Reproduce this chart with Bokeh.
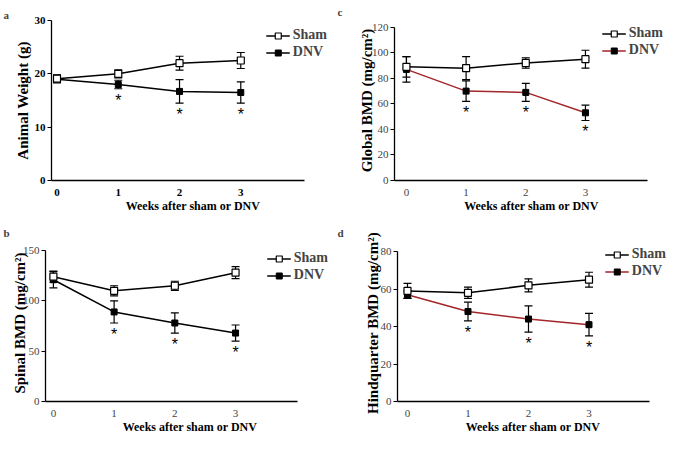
from bokeh.plotting import figure
from bokeh.models import (ColumnDataSource, Whisker, TeeHead, FixedTicker, Range1d,
                          Legend, LegendItem)
from bokeh.layouts import column, row
from bokeh.embed import file_html
from bokeh.resources import INLINE

weeks = [0, 1, 2, 3]
week_labels = ["0", "1", "2", "3"]
significant = [False, True, True, True]

# a: animal weight (g)
weight_sham = [19.1, 20.0, 22.0, 22.5]
weight_sham_err = [0.7, 0.75, 1.3, 1.5]
weight_dnv = [19.0, 18.0, 16.7, 16.5]
weight_dnv_err = [0.7, 0.8, 2.2, 2.0]

# b: spinal BMD
spinal_sham = [124, 110, 115, 128]
spinal_sham_err = [5.5, 5, 4.5, 6]
spinal_dnv = [121, 89, 78, 68]
spinal_dnv_err = [8, 11, 10, 8]

# c: global BMD
global_sham = [89, 88, 92, 95]
global_sham_err = [8, 9, 4, 7]
global_dnv = [87, 70, 69, 53]
global_dnv_err = [10, 8, 7, 6]

# d: hindquarter BMD
hind_sham = [59, 58, 62, 65]
hind_sham_err = [4, 3, 3.5, 4]
hind_dnv = [57, 48, 44, 41]
hind_dnv_err = [2, 5, 7, 6]

FONT = "Liberation Serif"
W, H = 334, 218


def panel(letter, ylabel, yticks, ymax, ytop, sham, sham_err, dnv, dnv_err, dnv_color,
          bold_ticks, frame, xr, leg_margin, ylab_standoff, letter_standoff):
    left, top, right, bottom = frame   # intended frame box inside the canvas
    dpp = (xr[1] - xr[0]) / (right - left)
    x_end = xr[0] + (W - left) * dpp   # widen frame so legend is not clipped
    p = figure(width=W, height=H, output_backend="svg", toolbar_location=None,
               x_range=Range1d(xr[0], x_end), y_range=Range1d(0, ytop),
               min_border_left=left, min_border_top=top, min_border_right=0,
               min_border_bottom=H - bottom, title=letter)
    p.title.align = "left"
    p.title.offset = -(left - 3)
    p.title.text_font = FONT
    p.title.text_font_style = "bold"
    p.title.text_font_size = "11px"
    p.title.standoff = letter_standoff
    p.outline_line_color = None
    p.xgrid.visible = False
    p.ygrid.visible = False
    p.background_fill_color = "white"
    p.border_fill_color = "white"

    for ax in (p.xaxis[0], p.yaxis[0]):
        ax.axis_line_width = 1.3
        ax.axis_line_color = "black"
        ax.minor_tick_line_color = None
        ax.minor_tick_out = 0
        ax.minor_tick_in = 0
        ax.major_label_text_font = FONT
        ax.major_label_text_font_size = "11px"
        ax.major_label_text_font_style = "bold" if bold_ticks else "normal"
        ax.major_label_text_color = "black" if bold_ticks else "#444444"
        ax.axis_label_text_font = FONT
        ax.axis_label_text_font_style = "bold"
        ax.axis_label_text_color = "black"
    p.xaxis.bounds = xr
    p.yaxis.bounds = (0, ymax)
    p.xaxis.ticker = FixedTicker(ticks=weeks)
    p.xaxis.major_label_overrides = {w: l for w, l in zip(weeks, week_labels)}
    p.xaxis.major_tick_line_color = None
    p.xaxis.major_tick_out = 0
    p.xaxis.major_tick_in = 0
    p.xaxis.major_label_standoff = 8
    p.xaxis.axis_label = "Weeks after sham or DNV"
    p.xaxis.axis_label_text_font_size = "12px"
    p.xaxis.axis_label_standoff = 0
    p.yaxis.ticker = FixedTicker(ticks=yticks)
    p.yaxis.major_tick_in = 0
    p.yaxis.major_tick_out = 4
    p.yaxis.major_tick_line_width = 1.2
    p.yaxis.major_label_standoff = 2
    p.yaxis.axis_label = ylabel
    p.yaxis.axis_label_text_font_size = "15px"
    p.yaxis.axis_label_standoff = ylab_standoff

    src_s = ColumnDataSource(dict(x=weeks, y=sham,
                                  lo=[v - e for v, e in zip(sham, sham_err)],
                                  hi=[v + e for v, e in zip(sham, sham_err)]))
    src_d = ColumnDataSource(dict(x=weeks, y=dnv,
                                  lo=[v - e for v, e in zip(dnv, dnv_err)],
                                  hi=[v + e for v, e in zip(dnv, dnv_err)]))
    for src in (src_s, src_d):
        wk = Whisker(source=src, base="x", upper="hi", lower="lo",
                     line_color="black", line_width=1.2,
                     upper_head=TeeHead(size=8, line_color="black", line_width=1.2),
                     lower_head=TeeHead(size=8, line_color="black", line_width=1.2))
        p.add_layout(wk)

    dl = p.line("x", "y", source=src_d, line_color=dnv_color, line_width=1.5)
    dm = p.scatter("x", "y", source=src_d, marker="square", size=6,
                   fill_color="black", line_color="black")
    sl = p.line("x", "y", source=src_s, line_color="black", line_width=1.5)
    sm = p.scatter("x", "y", source=src_s, marker="square", size=7,
                   fill_color="white", line_color="black", line_width=1.2)

    star_src = ColumnDataSource(dict(
        x=[w for w, s in zip(weeks, significant) if s],
        y=[v - e for v, e, s in zip(dnv, dnv_err, significant) if s],
        t=["*" for s in significant if s]))
    p.text("x", "y", text="t", source=star_src, text_align="center",
           text_baseline="top", y_offset=3, text_font_size="16px",
           text_color="black")

    legend = Legend(items=[LegendItem(label="Sham", renderers=[sl, sm]),
                           LegendItem(label="DNV", renderers=[dl, dm])],
                    location="top_right", glyph_width=24, glyph_height=15,
                    label_height=15, spacing=1,
                    padding=0, margin=leg_margin,
                    label_standoff=3, border_line_color=None,
                    background_fill_alpha=0,
                    label_text_font=FONT, label_text_font_style="bold",
                    label_text_font_size="14px")
    p.add_layout(legend)
    return p


pa = panel("a", "Animal Weight (g)", [0, 10, 20, 30], 30, 30,
           weight_sham, weight_sham_err, weight_dnv, weight_dnv_err, "black",
           True, (51, 13, 304, 180), (-0.09, 4.04), 7, 1, 0)
pc = panel("c", "Global BMD (mg/cm²)", [0, 20, 40, 60, 80, 100, 120], 120, 125.3,
           global_sham, global_sham_err, global_dnv, global_dnv_err, "#a3262a",
           False, (60, 19, 313, 183), (-0.2, 4.04), 5, -6, 6)
pb = panel("b", "Spinal BMD (mg/cm²)", [0, 50, 100, 150], 150, 156,
           spinal_sham, spinal_sham_err, spinal_dnv, spinal_dnv_err, "black",
           False, (45, 24, 297, 186), (-0.13, 4.02), 6, -8, 11)
pd_ = panel("d", "Hindquarter BMD (mg/cm²)", [0, 20, 40, 60, 80], 80, 83.8,
            hind_sham, hind_sham_err, hind_dnv, hind_dnv_err, "#a3262a",
            False, (63, 25, 315, 183), (-0.165, 4.0), 2, -3, 12)

layout = column(row(pa, pc), row(pb, pd_))
open("out.html", "w").write(file_html(layout, INLINE))
